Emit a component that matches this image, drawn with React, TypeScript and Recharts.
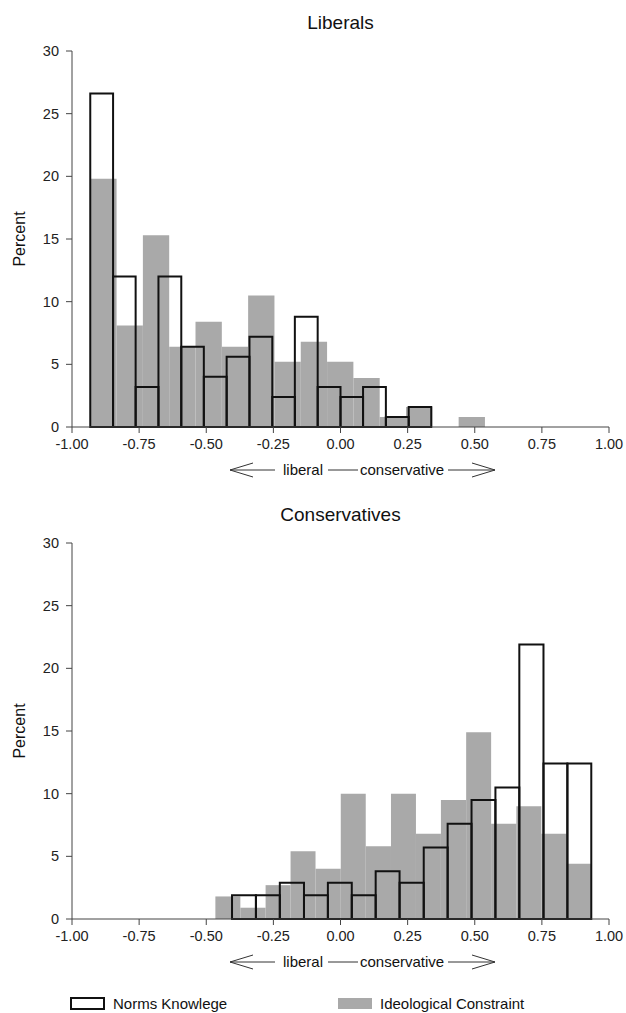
import { ComposedChart, ReferenceArea, XAxis, YAxis } from "recharts";

const xTicks = [-1, -0.75, -0.5, -0.25, 0, 0.25, 0.5, 0.75, 1];
const yTicks = [0, 5, 10, 15, 20, 25, 30];

// Liberals: bin edges and percents
const libNormsEdges = [-0.932, -0.847, -0.763, -0.678, -0.593, -0.509, -0.424, -0.339, -0.254, -0.17, -0.085, 0.0, 0.084, 0.169, 0.254, 0.338];
const libNorms = [26.6, 12.0, 3.2, 12.0, 6.4, 4.0, 5.6, 7.2, 2.4, 8.8, 3.2, 2.4, 3.2, 0.8, 1.6];
const libIdeoEdges = [-0.932, -0.834, -0.736, -0.638, -0.54, -0.442, -0.344, -0.246, -0.148, -0.05, 0.048, 0.146, 0.244, 0.342, 0.44, 0.538];
const libIdeo = [19.8, 8.1, 15.3, 6.4, 8.4, 6.4, 10.5, 5.2, 6.8, 5.2, 3.9, 0.8, 1.6, 0, 0.8];

// Conservatives
const conNormsEdges = [-0.404, -0.315, -0.226, -0.136, -0.047, 0.042, 0.131, 0.22, 0.31, 0.399, 0.488, 0.577, 0.666, 0.756, 0.845, 0.934];
const conNorms = [1.9, 1.9, 2.9, 1.9, 2.9, 1.9, 3.8, 2.9, 5.7, 7.6, 9.5, 10.5, 21.9, 12.4, 12.4];
const conIdeoEdges = [-0.466, -0.373, -0.279, -0.186, -0.093, 0.001, 0.094, 0.188, 0.281, 0.374, 0.468, 0.561, 0.655, 0.748, 0.842, 0.935];
const conIdeo = [1.8, 0.9, 2.7, 5.4, 4.0, 10.0, 5.8, 10.0, 6.8, 9.5, 14.9, 7.6, 9.0, 6.8, 4.4];

const FONT = "'Liberation Sans', Arial, sans-serif";
const AXIS = "#444";
const GRAY = "#a9a9a9";

interface PanelProps {
  title: string;
  normsEdges: number[];
  norms: number[];
  ideoEdges: number[];
  ideo: number[];
}

function Panel({ title, normsEdges, norms, ideoEdges, ideo }: PanelProps) {
  const tickStyle = { fontSize: 14.5, fill: "#222", fontFamily: FONT };
  return (
    <div style={{ position: "relative", width: 626, height: 492 }}>
      <ComposedChart width={626} height={492} margin={{ top: 51, right: 17, bottom: 35, left: 0 }}>
        <XAxis
          type="number"
          dataKey="x"
          domain={[-1, 1]}
          ticks={xTicks}
          allowDataOverflow
          tickFormatter={(v: number) => v.toFixed(2)}
          tick={tickStyle}
          tickSize={6}
          tickMargin={6}
          stroke={AXIS}
          height={30}
        />
        <YAxis
          type="number"
          domain={[0, 30]}
          ticks={yTicks}
          allowDataOverflow
          tick={tickStyle}
          tickSize={6}
          tickMargin={7}
          stroke={AXIS}
          width={72}
        />
        <XAxis xAxisId="top" orientation="top" type="number" domain={[-1, 1]} tick={false} tickLine={false} stroke={AXIS} height={0} />
        <YAxis yAxisId="right" orientation="right" type="number" domain={[0, 30]} tick={false} tickLine={false} stroke={AXIS} width={0} />
        {ideo.map((v, i) =>
          v > 0 ? (
            <ReferenceArea
              key={"i" + i}
              x1={ideoEdges[i]}
              x2={ideoEdges[i + 1]}
              y1={0}
              y2={v}
              fill={GRAY}
              fillOpacity={1}
              stroke="none"
              ifOverflow="visible"
            />
          ) : null
        )}
        {norms.map((v, i) => (
          <ReferenceArea
            key={"n" + i}
            x1={normsEdges[i]}
            x2={normsEdges[i + 1]}
            y1={0}
            y2={v}
            fill="none"
            fillOpacity={0}
            stroke="#111"
            strokeWidth={2}
            strokeOpacity={1}
            ifOverflow="visible"
          />
        ))}
      </ComposedChart>
      <svg width={626} height={492} style={{ position: "absolute", left: 0, top: 0, pointerEvents: "none" }}>
        <text x={340.5} y={28.5} textAnchor="middle" fontSize={19} fontFamily={FONT} fill="#111">
          {title}
        </text>
        <text x={25} y={239} textAnchor="middle" fontSize={16} fontFamily={FONT} fill="#111" transform="rotate(-90 25 239)">
          Percent
        </text>
        <g stroke="#333" strokeWidth={1} fill="none">
          <line x1={230} y1={470} x2={275} y2={470} />
          <line x1={230} y1={470} x2={253} y2={463} />
          <line x1={230} y1={470} x2={253} y2={477} />
          <line x1={328} y1={470} x2={358} y2={470} />
          <line x1={448} y1={470} x2={495} y2={470} />
          <line x1={495} y1={470} x2={472} y2={463} />
          <line x1={495} y1={470} x2={472} y2={477} />
        </g>
        <text x={283} y={475} fontSize={15} fontFamily={FONT} fill="#111">
          liberal
        </text>
        <text x={360} y={475} fontSize={15} fontFamily={FONT} fill="#111">
          conservative
        </text>
      </svg>
    </div>
  );
}

export default function App() {
  return (
    <div style={{ position: "absolute", left: 0, top: 0, width: 626, height: 1013, background: "#fff", fontFamily: FONT }}>
      <Panel title="Liberals" normsEdges={libNormsEdges} norms={libNorms} ideoEdges={libIdeoEdges} ideo={libIdeo} />
      <Panel title="Conservatives" normsEdges={conNormsEdges} norms={conNorms} ideoEdges={conIdeoEdges} ideo={conIdeo} />
      <svg width={626} height={29} style={{ position: "absolute", left: 0, top: 984 }}>
        <rect x={71} y={14} width={33} height={11} fill="#fff" stroke="#111" strokeWidth={2} />
        <text x={113} y={24.5} fontSize={15} fontFamily={FONT} fill="#111">
          Norms Knowlege
        </text>
        <rect x={338} y={14} width={34} height={11} fill={GRAY} />
        <text x={380} y={24.5} fontSize={15} fontFamily={FONT} fill="#111">
          Ideological Constraint
        </text>
      </svg>
    </div>
  );
}
